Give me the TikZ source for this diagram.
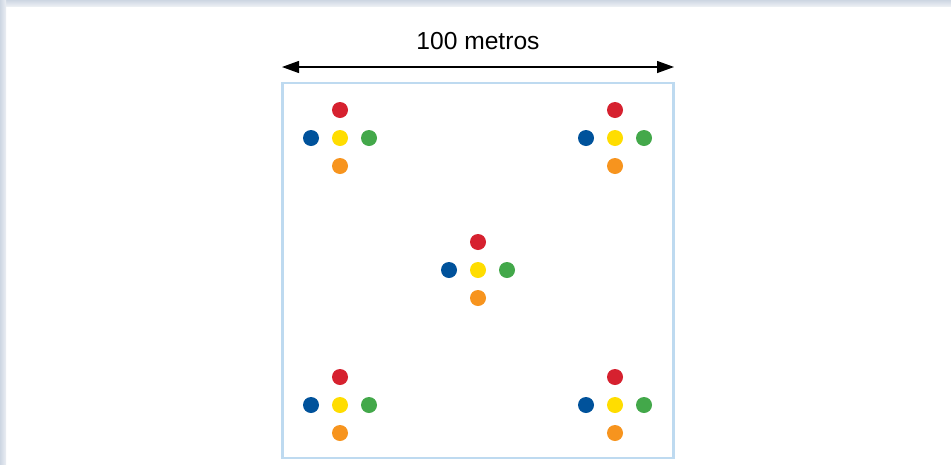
\documentclass[tikz,border=0pt]{standalone}
\usepackage{fontspec}
\setmainfont{Liberation Sans}
\usetikzlibrary{arrows.meta}
\definecolor{dotred}{RGB}{214,33,47}
\definecolor{dotblue}{RGB}{0,82,155}
\definecolor{dotyellow}{RGB}{255,221,0}
\definecolor{dotgreen}{RGB}{67,168,74}
\definecolor{dotorange}{RGB}{247,148,30}
\definecolor{fieldline}{RGB}{190,218,240}
\definecolor{frameband}{RGB}{205,214,226}
\tikzset{
  dot/.style={circle,inner sep=0pt,minimum size=16pt,draw=none},
  fieldbox/.style={draw=fieldline,line width=2.4pt},
  measure/.style={line width=1.3pt,{Triangle[length=17pt,width=12pt]}-{Triangle[length=17pt,width=12pt]}},
  label/.style={font=\fontsize{24.6pt}{28pt}\selectfont,inner sep=0pt}
}
\begin{document}
\begin{tikzpicture}[x=1pt,y=-1pt]
\useasboundingbox (0,0) rectangle (951,464);
\fill[white] (0,0) rectangle (951,464);
% outer frame bands
\shade[top color=frameband,bottom color=frameband!40!white] (0,0) rectangle (951,6);
\shade[left color=frameband,right color=frameband!40!white] (0,0) rectangle (6,464);
% field
\draw[fieldbox] (282.5,83) rectangle (673.5,458);
% measure arrow
\coordinate (aL) at (282,67);
\coordinate (aR) at (674,67);
\draw[measure] (aL) -- (aR);
\node[label] (lbl) at (478,41) {100 metros};
% dot groups
\foreach \g/\cx/\cy in {tl/340/138, tr/615/138, c/478/270, bl/340/405, br/615/405}{
  \node[dot,fill=dotred]    (\g r) at (\cx,\cy-28) {};
  \node[dot,fill=dotblue]   (\g b) at (\cx-29,\cy) {};
  \node[dot,fill=dotyellow] (\g y) at (\cx,\cy) {};
  \node[dot,fill=dotgreen]  (\g g) at (\cx+29,\cy) {};
  \node[dot,fill=dotorange] (\g o) at (\cx,\cy+28) {};
}
\end{tikzpicture}
\end{document}
